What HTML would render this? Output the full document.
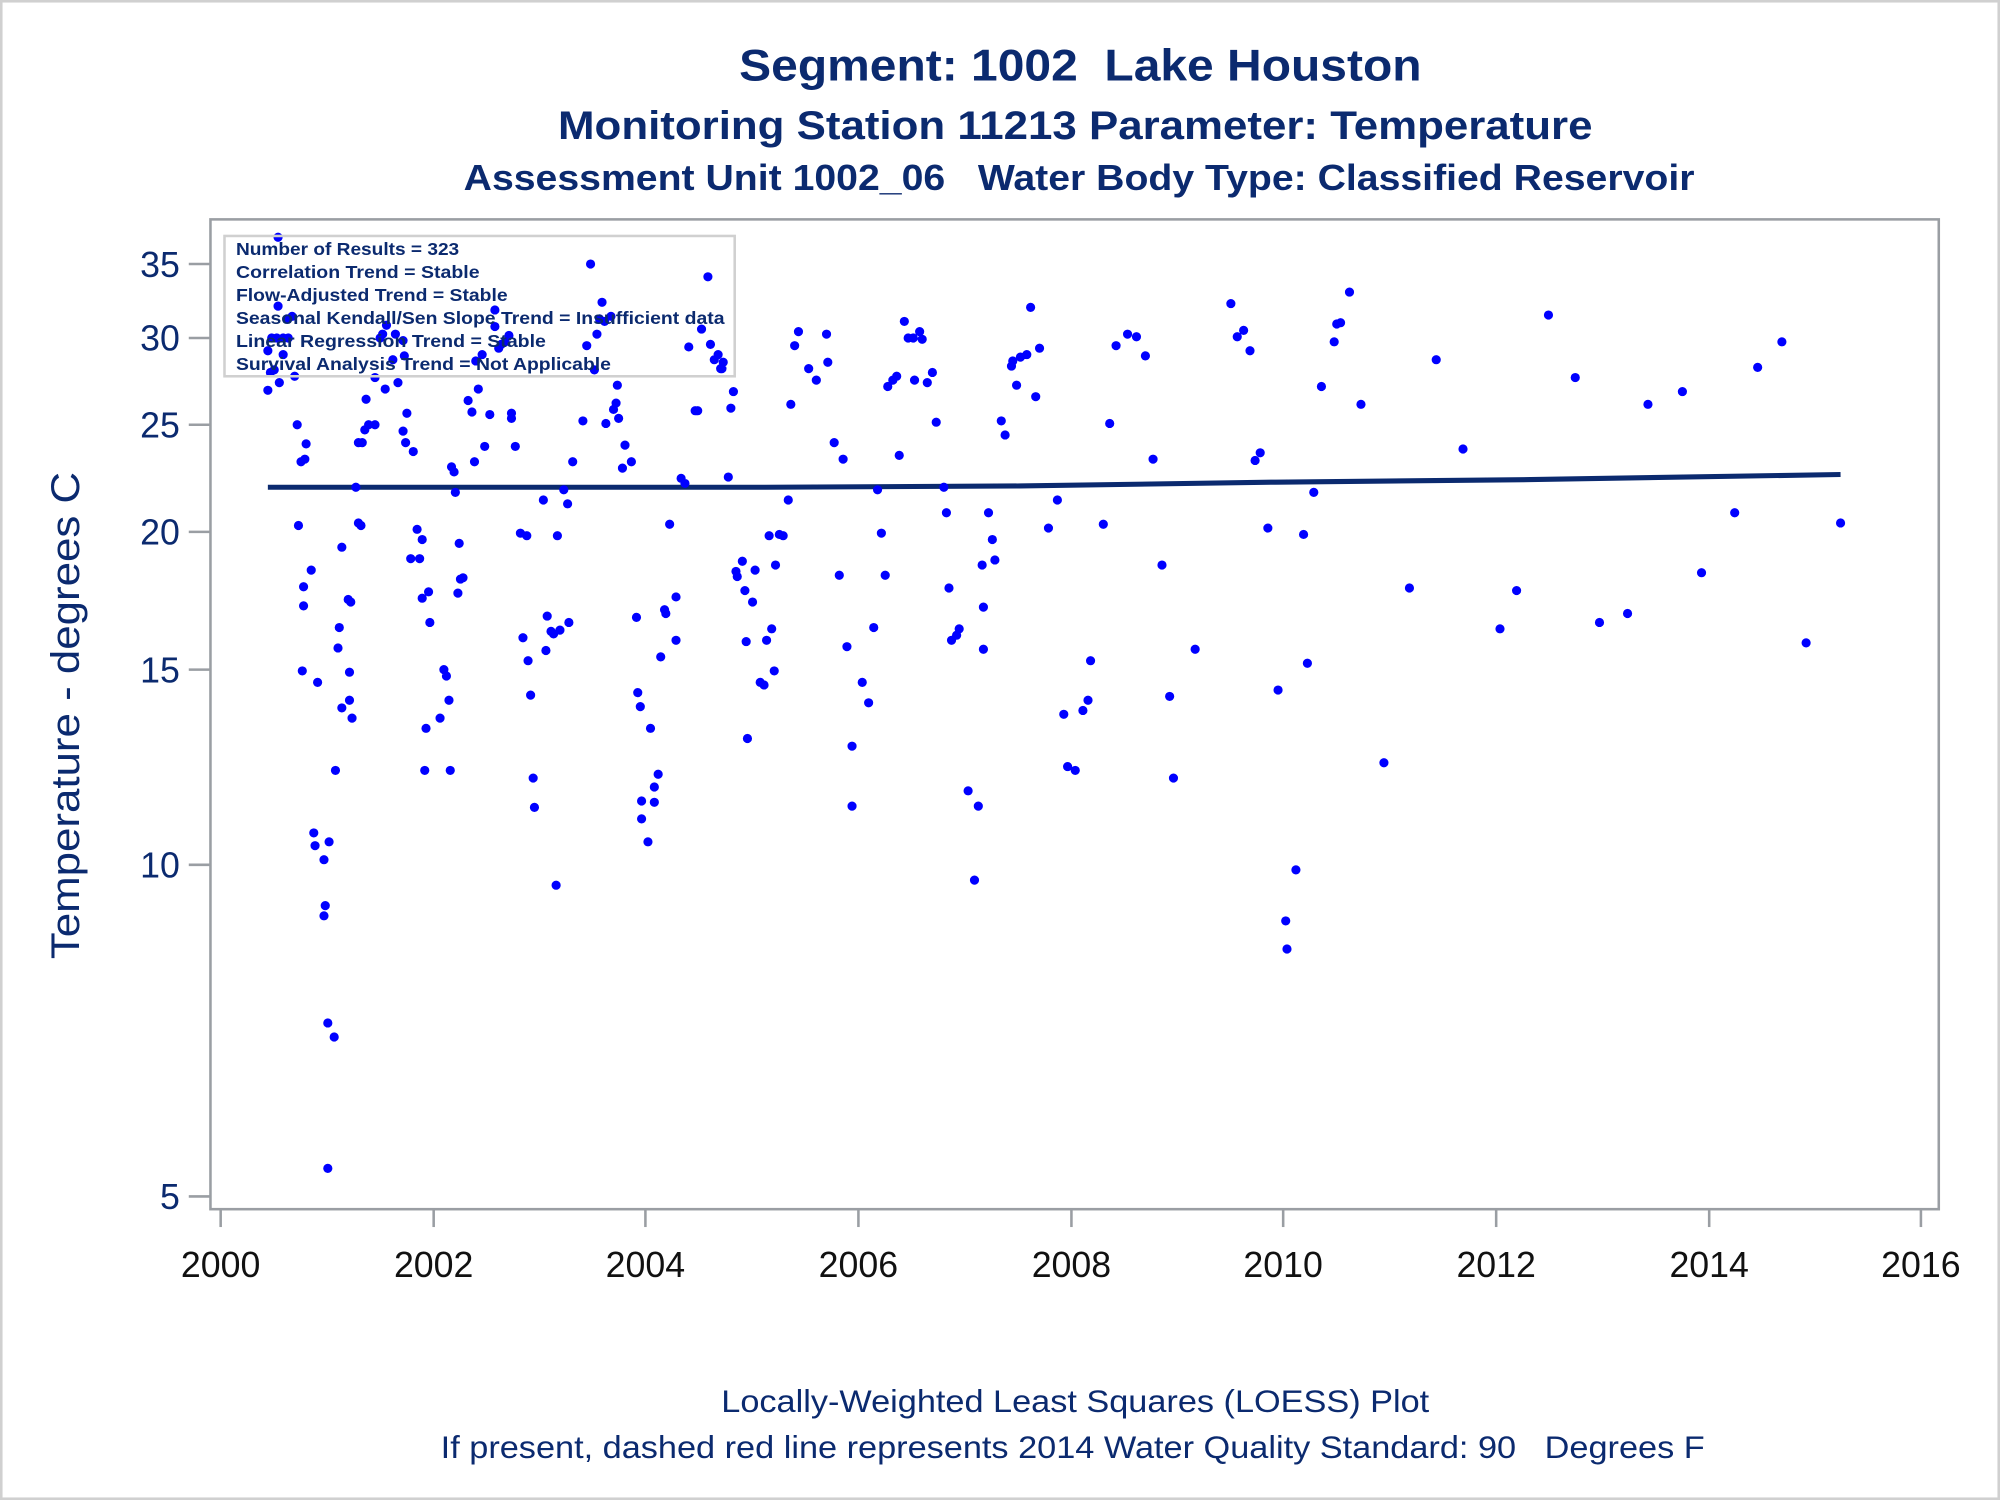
<!DOCTYPE html>
<html><head><meta charset="utf-8"><style>
html,body{margin:0;padding:0;background:#fff;}
svg{display:block;}
text{font-family:"Liberation Sans",Arial,sans-serif;white-space:pre;}
</style></head><body>
<svg width="2000" height="1500" viewBox="0 0 1568 1176" xmlns="http://www.w3.org/2000/svg" xml:space="preserve">
<rect x="1" y="1" width="1566" height="1174" fill="#fff" stroke="#d0d0d0" stroke-width="2"/>
<g fill="#0b2a6f" font-weight="bold" text-anchor="middle">
<text x="847" y="63" font-size="35" textLength="535" lengthAdjust="spacingAndGlyphs">Segment: 1002  Lake Houston</text>
<text x="843" y="109" font-size="31" textLength="811" lengthAdjust="spacingAndGlyphs">Monitoring Station 11213 Parameter: Temperature</text>
<text x="846" y="149" font-size="28" textLength="965" lengthAdjust="spacingAndGlyphs">Assessment Unit 1002_06   Water Body Type: Classified Reservoir</text>
</g>
<rect x="165" y="172" width="1355" height="776" fill="none" stroke="#9a9ea3" stroke-width="2"/>
<g stroke="#9a9ea3" stroke-width="2">
<line x1="148" y1="207" x2="165" y2="207"/><line x1="148" y1="265" x2="165" y2="265"/>
<line x1="148" y1="333" x2="165" y2="333"/><line x1="148" y1="417" x2="165" y2="417"/>
<line x1="148" y1="525" x2="165" y2="525"/><line x1="148" y1="678" x2="165" y2="678"/>
<line x1="148" y1="938" x2="165" y2="938"/>
<line x1="173" y1="948" x2="173" y2="962"/><line x1="340" y1="948" x2="340" y2="962"/>
<line x1="506" y1="948" x2="506" y2="962"/><line x1="673" y1="948" x2="673" y2="962"/>
<line x1="840" y1="948" x2="840" y2="962"/><line x1="1006" y1="948" x2="1006" y2="962"/>
<line x1="1173" y1="948" x2="1173" y2="962"/><line x1="1340" y1="948" x2="1340" y2="962"/>
<line x1="1506" y1="948" x2="1506" y2="962"/>
</g>
<g fill="#0b2a6f" font-size="28" text-anchor="end">
<text x="141" y="217">35</text><text x="141" y="275">30</text><text x="141" y="343">25</text>
<text x="141" y="427">20</text><text x="141" y="535">15</text><text x="141" y="688">10</text>
<text x="141" y="948">5</text>
</g>
<g fill="#111" font-size="28" text-anchor="middle">
<text x="173" y="1001">2000</text><text x="340" y="1001">2002</text><text x="506" y="1001">2004</text>
<text x="673" y="1001">2006</text><text x="840" y="1001">2008</text><text x="1006" y="1001">2010</text>
<text x="1173" y="1001">2012</text><text x="1340" y="1001">2014</text><text x="1506" y="1001">2016</text>
</g>
<text transform="translate(62,561) rotate(-90)" fill="#0b2a6f" font-size="31" text-anchor="middle" textLength="382" lengthAdjust="spacingAndGlyphs">Temperature - degrees C</text>
<g fill="#0b2a6f" font-size="25" text-anchor="middle">
<text x="843" y="1107" textLength="555" lengthAdjust="spacingAndGlyphs">Locally-Weighted Least Squares (LOESS) Plot</text>
<text x="841" y="1143" textLength="991" lengthAdjust="spacingAndGlyphs">If present, dashed red line represents 2014 Water Quality Standard: 90   Degrees F</text>
</g>
<path d="M210,382 L600,382 L800,381 L1000,378 L1200,376 L1443,372" fill="none" stroke="#0b2a6f" stroke-width="4"/>
<path fill="none" stroke="#0000ff" stroke-width="7.2" stroke-linecap="round" d="M218,186h0M210,306h0M212,292h0M215,290h0M210,275h0M213,265h0M217,265h0M222,265h0M218,240h0M225,250h0M229,248h0M219,300h0M222,278h0M226,265h0M231,295h0M233,333h0M236,362h0M239,360h0M240,348h0M234,412h0M238,460h0M238,475h0M237,526h0M244,447h0M249,535h0M246,653h0M247,663h0M254,674h0M255,710h0M254,718h0M258,660h0M257,802h0M262,813h0M257,916h0M263,604h0M265,508h0M266,492h0M268,429h0M268,555h0M273,470h0M275,472h0M274,527h0M274,549h0M276,563h0M279,382h0M281,347h0M281,410h0M283,412h0M284,347h0M286,337h0M287,313h0M289,333h0M294,333h0M294,296h0M298,265h0M300,262h0M303,255h0M302,305h0M308,282h0M310,262h0M312,300h0M316,267h0M317,279h0M318,347h0M316,338h0M319,324h0M324,354h0M322,438h0M327,415h0M329,438h0M331,469h0M331,423h0M336,464h0M337,488h0M334,571h0M333,604h0M345,563h0M348,525h0M350,530h0M352,549h0M353,604h0M354,366h0M357,386h0M356,370h0M360,426h0M361,454h0M359,465h0M363,453h0M367,314h0M370,323h0M372,362h0M373,283h0M375,305h0M378,278h0M380,350h0M384,325h0M388,243h0M388,256h0M391,273h0M393,270h0M396,268h0M399,263h0M401,324h0M401,328h0M404,350h0M408,418h0M410,500h0M413,420h0M414,518h0M416,545h0M418,610h0M419,633h0M426,392h0M428,510h0M429,483h0M432,495h0M434,497h0M436,694h0M437,420h0M439,494h0M442,384h0M445,395h0M446,488h0M449,362h0M457,330h0M460,271h0M463,207h0M466,290h0M468,262h0M470,250h0M472,237h0M474,252h0M475,332h0M479,248h0M481,321h0M483,316h0M484,302h0M485,328h0M488,367h0M490,349h0M495,362h0M499,484h0M500,543h0M502,554h0M503,628h0M503,642h0M508,660h0M510,571h0M513,617h0M513,629h0M516,607h0M518,515h0M521,478h0M522,481h0M525,411h0M530,468h0M530,502h0M534,375h0M537,379h0M540,272h0M545,322h0M547,322h0M550,258h0M555,217h0M557,270h0M560,282h0M563,278h0M565,289h0M567,284h0M566,289h0M571,374h0M573,320h0M575,307h0M577,448h0M578,452h0M582,440h0M584,463h0M585,503h0M586,579h0M590,472h0M592,447h0M596,535h0M599,537h0M601,502h0M603,420h0M605,493h0M607,526h0M608,443h0M611,419h0M614,420h0M618,392h0M620,317h0M623,271h0M626,260h0M634,289h0M640,298h0M648,262h0M649,284h0M654,347h0M658,451h0M661,360h0M664,507h0M668,585h0M668,632h0M676,535h0M681,551h0M685,492h0M688,384h0M691,418h0M694,451h0M696,303h0M700,298h0M703,295h0M705,357h0M709,252h0M712,265h0M717,298h0M716,265h0M721,260h0M723,266h0M727,300h0M731,292h0M734,331h0M740,382h0M742,402h0M744,461h0M746,502h0M750,498h0M752,493h0M759,620h0M764,690h0M767,632h0M770,443h0M771,476h0M771,509h0M775,402h0M778,423h0M780,439h0M785,330h0M788,341h0M793,287h0M794,283h0M797,302h0M800,280h0M805,278h0M808,241h0M812,311h0M815,273h0M822,414h0M829,392h0M834,560h0M837,601h0M843,604h0M849,557h0M855,518h0M853,549h0M865,411h0M870,332h0M875,271h0M884,262h0M891,264h0M898,279h0M904,360h0M911,443h0M917,546h0M920,610h0M937,509h0M965,238h0M970,264h0M975,259h0M980,275h0M984,361h0M988,355h0M994,414h0M1002,541h0M1008,722h0M1009,744h0M1016,682h0M1022,419h0M1025,520h0M1030,386h0M1036,303h0M1046,268h0M1048,254h0M1051,253h0M1058,229h0M1067,317h0M1085,598h0M1105,461h0M1126,282h0M1147,352h0M1176,493h0M1189,463h0M1214,247h0M1235,296h0M1254,488h0M1276,481h0M1292,317h0M1319,307h0M1334,449h0M1360,402h0M1378,288h0M1397,268h0M1416,504h0M1443,410h0"/>
<rect x="176" y="185" width="400" height="110" fill="none" stroke="#d0d0d0" stroke-width="2"/>
<g fill="#0b2a6f" font-size="14" font-weight="bold">
<text x="185" y="200" textLength="175" lengthAdjust="spacingAndGlyphs">Number of Results = 323</text>
<text x="185" y="218" textLength="191" lengthAdjust="spacingAndGlyphs">Correlation Trend = Stable</text>
<text x="185" y="236" textLength="213" lengthAdjust="spacingAndGlyphs">Flow-Adjusted Trend = Stable</text>
<text x="185" y="254" textLength="383" lengthAdjust="spacingAndGlyphs">Seasonal Kendall/Sen Slope Trend = Insufficient data</text>
<text x="185" y="272" textLength="243" lengthAdjust="spacingAndGlyphs">Linear Regression Trend = Stable</text>
<text x="185" y="290" textLength="294" lengthAdjust="spacingAndGlyphs">Survival Analysis Trend = Not Applicable</text>
</g>
</svg>
</body></html>
